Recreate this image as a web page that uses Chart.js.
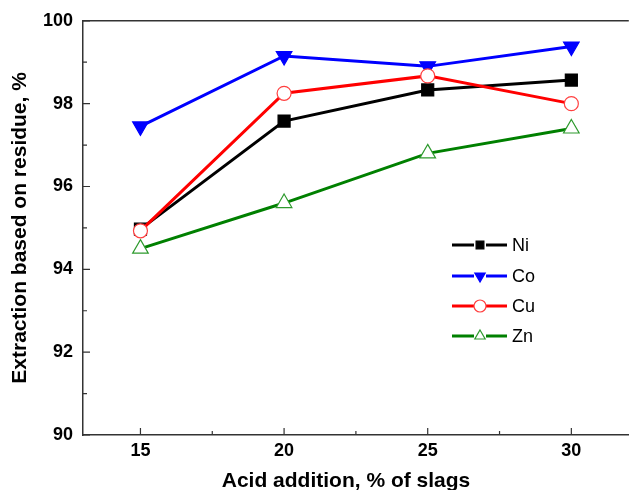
<!DOCTYPE html>
<html lang="en">
<head>
    <meta charset="UTF-8">
    <title>Extraction vs acid addition</title>
    <style>
        html, body { margin: 0; padding: 0; background: #fff; overflow: hidden; }
        /* a bit wider than the window: the plot frame runs past the right edge */
        #wrap { width: 639px; height: 500px; }
    </style>
</head>
<body>
    <div id="wrap">
        <canvas id="chart"></canvas>
    </div>

    <script src="https://cdn.jsdelivr.net/npm/chart.js"></script>
    <script>
        // data
        const acidAddition = [15, 20, 25, 30];
        const niValues = [94.97, 97.58, 98.33, 98.57];
        const coValues = [97.45, 99.15, 98.90, 99.38];
        const cuValues = [94.93, 98.25, 98.67, 98.00];
        const znValues = [94.50, 95.60, 96.80, 97.40];
        const yTickValues = [90, 92, 94, 96, 98, 100];
        const yMinorTicks = [91, 93, 95, 97, 99];
        const xMinorTicks = [17.5, 22.5, 27.5];
        const legendLabels = ['Ni', 'Co', 'Cu', 'Zn'];
        const xTitle = 'Acid addition, % of slags';
        const yTitle = 'Extraction based on residue, %';

        const FONT = '"Liberation Sans", Arial, sans-serif';
        const AXIS_COLOR = '#333';

        function toPoints(values) {
            return acidAddition.map((x, i) => ({ x: x, y: values[i] }));
        }

        // inward ticks, top frame line, x title and the legend inside the plot
        const framePlugin = {
            id: 'frame',
            afterDraw(chart) {
                const ctx = chart.ctx;
                const area = chart.chartArea;
                const xs = chart.scales.x;
                const ys = chart.scales.y;
                ctx.save();
                ctx.strokeStyle = AXIS_COLOR;
                ctx.lineWidth = 1.5;

                // top border
                ctx.beginPath();
                ctx.moveTo(area.left, area.top);
                ctx.lineTo(area.right, area.top);
                ctx.stroke();

                ctx.lineWidth = 1.2;
                ctx.beginPath();
                acidAddition.forEach(v => {
                    const px = xs.getPixelForValue(v);
                    ctx.moveTo(px, area.bottom);
                    ctx.lineTo(px, area.bottom - 7);
                });
                xMinorTicks.forEach(v => {
                    const px = xs.getPixelForValue(v);
                    ctx.moveTo(px, area.bottom);
                    ctx.lineTo(px, area.bottom - 4);
                });
                yTickValues.forEach(v => {
                    const py = ys.getPixelForValue(v);
                    ctx.moveTo(area.left, py);
                    ctx.lineTo(area.left + 7, py);
                });
                yMinorTicks.forEach(v => {
                    const py = ys.getPixelForValue(v);
                    ctx.moveTo(area.left, py);
                    ctx.lineTo(area.left + 4, py);
                });
                ctx.stroke();

                // x title sits left of the axis centre in the original
                ctx.fillStyle = '#000';
                ctx.font = 'bold 21px ' + FONT;
                ctx.textAlign = 'center';
                ctx.textBaseline = 'alphabetic';
                ctx.fillText(xTitle, 346, 487);

                // legend
                const rowsY = [245, 276, 306, 336];
                ctx.textAlign = 'left';
                chart.data.datasets.forEach((ds, i) => {
                    const y = rowsY[i];
                    ctx.strokeStyle = ds.borderColor;
                    ctx.lineWidth = 3;
                    ctx.beginPath();
                    ctx.moveTo(452, y);
                    ctx.lineTo(474, y);
                    ctx.moveTo(486, y);
                    ctx.lineTo(507, y);
                    ctx.stroke();
                    ctx.strokeStyle = ds.pointBorderColor;
                    ctx.fillStyle = ds.pointBackgroundColor;
                    ctx.lineWidth = 1.2;
                    Chart.helpers.drawPoint(ctx, {
                        pointStyle: ds.pointStyle,
                        rotation: ds.pointRotation || 0,
                        radius: ds.pointStyle === 'rect' ? 5.5 : 6,
                        borderWidth: 1.2
                    }, 480, y);
                    ctx.fillStyle = '#000';
                    ctx.font = '18px ' + FONT;
                    ctx.textBaseline = 'middle';
                    ctx.fillText(legendLabels[i], 512, y + 1);
                });
                ctx.restore();
            }
        };

        const ctx = document.getElementById('chart').getContext('2d');
        new Chart(ctx, {
            type: 'line',
            data: {
                datasets: [{
                    label: legendLabels[0],
                    data: toPoints(niValues),
                    borderColor: '#000000',
                    pointBackgroundColor: '#000000',
                    pointBorderColor: '#000000',
                    pointStyle: 'rect',
                    pointRadius: 8.5,
                    order: 1
                }, {
                    label: legendLabels[1],
                    data: toPoints(coValues),
                    borderColor: '#0000ff',
                    pointBackgroundColor: '#0000ff',
                    pointBorderColor: '#0000ff',
                    pointStyle: 'triangle',
                    pointRotation: 180,
                    pointRadius: 9,
                    order: 2
                }, {
                    label: legendLabels[2],
                    data: toPoints(cuValues),
                    borderColor: '#ff0000',
                    pointBackgroundColor: '#ffffff',
                    pointBorderColor: '#ff4040',
                    pointStyle: 'circle',
                    pointRadius: 7,
                    order: 0
                }, {
                    label: legendLabels[3],
                    data: toPoints(znValues),
                    borderColor: '#008000',
                    pointBackgroundColor: '#ffffff',
                    pointBorderColor: '#2e9a2e',
                    pointStyle: 'triangle',
                    pointRadius: 9,
                    order: 3
                }].map(ds => Object.assign({
                    borderWidth: 3,
                    pointBorderWidth: 1.2,
                    tension: 0,
                    fill: false
                }, ds))
            },
            options: {
                responsive: true,
                maintainAspectRatio: false,
                animation: false,
                layout: { padding: { top: 20, right: 0, left: 0, bottom: 0 } },
                plugins: {
                    legend: { display: false },
                    tooltip: { enabled: false }
                },
                scales: {
                    x: {
                        type: 'linear',
                        min: 13,
                        max: 32,
                        afterBuildTicks: scale => {
                            scale.ticks = acidAddition.map(v => ({ value: v }));
                        },
                        afterFit: scale => { scale.height = 65; },
                        grid: { display: false, drawTicks: false, tickLength: 0 },
                        border: { display: true, color: AXIS_COLOR, width: 1.5 },
                        ticks: {
                            color: '#000',
                            padding: 5,
                            font: { family: FONT, size: 18, weight: 'bold' }
                        },
                        title: { display: false }
                    },
                    y: {
                        min: 90,
                        max: 100,
                        afterBuildTicks: scale => {
                            scale.ticks = yTickValues.map(v => ({ value: v }));
                        },
                        afterFit: scale => { scale.width = 83; },
                        grid: { display: false, drawTicks: false, tickLength: 0 },
                        border: { display: true, color: AXIS_COLOR, width: 1.5 },
                        ticks: {
                            color: '#000',
                            padding: 10,
                            font: { family: FONT, size: 18, weight: 'bold' }
                        },
                        title: {
                            display: true,
                            text: yTitle,
                            color: '#000',
                            padding: { top: 8, bottom: 0 },
                            font: { family: FONT, size: 21, weight: 'bold' }
                        }
                    }
                }
            },
            plugins: [framePlugin]
        });
    </script>
</body>
</html>
